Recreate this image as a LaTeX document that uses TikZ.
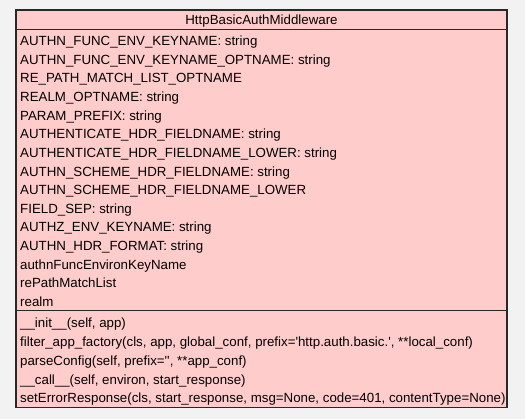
\documentclass[tikz,border=0pt]{standalone}
\usepackage{fontspec}
\setmainfont{Liberation Sans}
\definecolor{bgc}{RGB}{242,242,242}
\definecolor{pinkc}{RGB}{255,204,204}
\definecolor{linec}{RGB}{40,40,40}
\newcommand{\sq}{\textquotesingle}
\begin{document}
\begin{tikzpicture}[x=1pt,y=-1pt,
  member/.style={anchor=base west,inner sep=0pt,font=\fontsize{13.3}{15}\selectfont,text=black},
  title/.style={anchor=base,inner sep=0pt,font=\fontsize{13.3}{15}\selectfont,text=black}]
\fill[bgc] (0,0) rectangle (525,419);
\useasboundingbox (0,0) rectangle (525,419);
\coordinate (tl) at (16,10);
\coordinate (br) at (507,407.5);
\filldraw[fill=pinkc,draw=linec,line width=1.3pt] (tl) rectangle (br);
\draw[linec,line width=1.3pt] (16,29.5) -- (507,29.5);
\draw[linec,line width=1.3pt] (16,310.5) -- (507,310.5);
\node[title] (t) at (261.5,24.6) {HttpBasicAuthMiddleware};
\foreach \txt [count=\i from 0] in {
  AUTHN\_FUNC\_ENV\_KEYNAME: string,
  AUTHN\_FUNC\_ENV\_KEYNAME\_OPTNAME: string,
  RE\_PATH\_MATCH\_LIST\_OPTNAME,
  REALM\_OPTNAME: string,
  PARAM\_PREFIX: string,
  AUTHENTICATE\_HDR\_FIELDNAME: string,
  AUTHENTICATE\_HDR\_FIELDNAME\_LOWER: string,
  AUTHN\_SCHEME\_HDR\_FIELDNAME: string,
  AUTHN\_SCHEME\_HDR\_FIELDNAME\_LOWER,
  FIELD\_SEP: string,
  AUTHZ\_ENV\_KEYNAME: string,
  AUTHN\_HDR\_FORMAT: string,
  authnFuncEnvironKeyName,
  rePathMatchList,
  realm}
  \node[member] (a\i) at (20,45.7+18.62*\i) {\txt};
\node[member] (m0) at (20,328) {\_\_init\_\_(self, app)};
\node[member] (m1) at (20,346.7) {filter\_app\_factory(cls, app, global\_conf, prefix=\sq http.auth.basic.\sq, **local\_conf)};
\node[member] (m2) at (20,365.4) {parseConfig(self, prefix=\sq\sq, **app\_conf)};
\node[member] (m3) at (20,384.1) {\_\_call\_\_(self, environ, start\_response)};
\node[member] (m4) at (20,402.8) {setErrorResponse(cls, start\_response, msg=None, code=401, contentType=None)};
\end{tikzpicture}
\end{document}
